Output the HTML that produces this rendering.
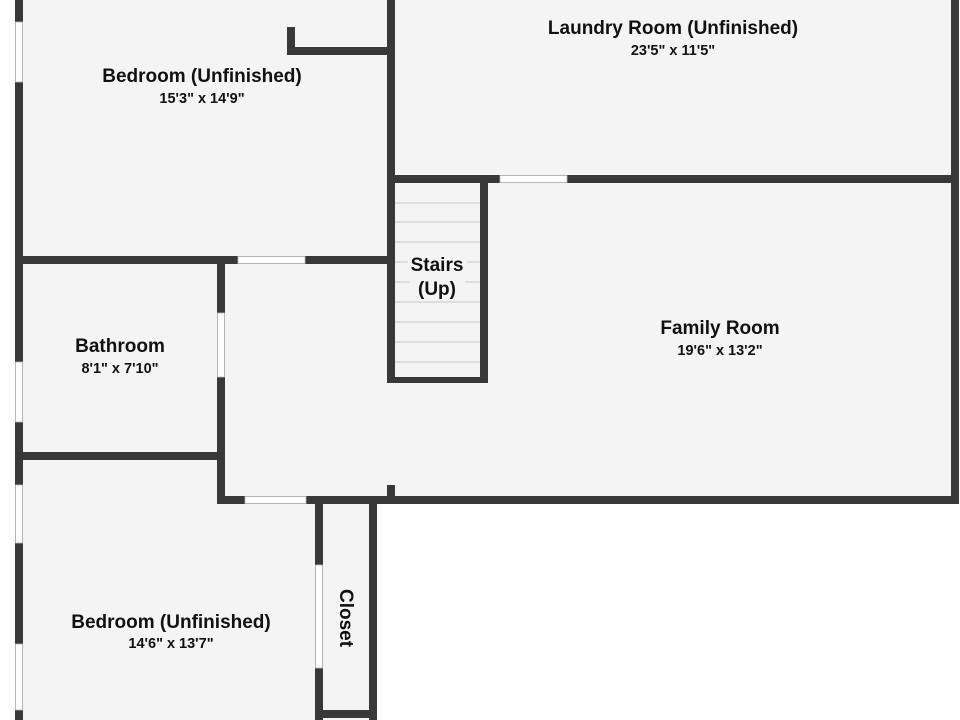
<!DOCTYPE html>
<html><head><meta charset="utf-8"><style>
html,body{margin:0;padding:0;background:#fff;width:960px;height:720px;overflow:hidden}
svg text{font-family:"Liberation Sans","DejaVu Sans",sans-serif;fill:#111;text-anchor:middle}
.t{font-size:19px;font-weight:bold}
.d{font-size:14.5px;font-weight:bold}
</style></head><body>
<svg width="960" height="720" viewBox="0 0 960 720" xmlns="http://www.w3.org/2000/svg">
<rect x="0" y="0" width="960" height="720" fill="#fff"/>
<g fill="#f4f4f4">
<rect x="19" y="0" width="940" height="504"/>
<rect x="19" y="500" width="358" height="220"/>
</g>
<g stroke="#c8c8c8" stroke-width="1">
<line x1="395" y1="203" x2="480" y2="203"/><line x1="395" y1="222" x2="480" y2="222"/>
<line x1="395" y1="242" x2="480" y2="242"/><line x1="395" y1="262" x2="408" y2="262"/><line x1="467" y1="262" x2="480" y2="262"/>
<line x1="395" y1="282" x2="410" y2="282"/><line x1="465" y1="282" x2="480" y2="282"/>
<line x1="395" y1="302" x2="480" y2="302"/><line x1="395" y1="322" x2="480" y2="322"/>
<line x1="395" y1="342" x2="480" y2="342"/><line x1="395" y1="362" x2="480" y2="362"/>
</g>
<g fill="#383838">
<rect x="15" y="0" width="8" height="720"/>
<rect x="387" y="0" width="8" height="383"/>
<rect x="287" y="27" width="8" height="28"/>
<rect x="287" y="47" width="104" height="8"/>
<rect x="19" y="256" width="372" height="8"/>
<rect x="951" y="0" width="8" height="504"/>
<rect x="391" y="175" width="564" height="8"/>
<rect x="480" y="175" width="8" height="207"/>
<rect x="387" y="377" width="101" height="6"/>
<rect x="217" y="260" width="8" height="244"/>
<rect x="19" y="452" width="204" height="8"/>
<rect x="217" y="496" width="742" height="8"/>
<rect x="387" y="485" width="8" height="15"/>
<rect x="315" y="500" width="8" height="220"/>
<rect x="369" y="500" width="8" height="220"/>
<rect x="315" y="710" width="62" height="8"/>
</g>
<g fill="#fff" stroke="#bbb" stroke-width="0.8">
<rect x="15.5" y="22" width="7" height="60"/>
<rect x="15.5" y="362" width="7" height="60"/>
<rect x="15.5" y="485" width="7" height="58"/>
<rect x="15.5" y="644" width="7" height="66"/>
<rect x="238" y="256.5" width="67" height="7"/>
<rect x="500" y="175.5" width="67" height="7"/>
<rect x="217.5" y="313" width="7" height="64"/>
<rect x="245" y="496.5" width="61" height="7"/>
<rect x="315.5" y="565" width="7" height="103"/>
</g>
<text class="t" x="673" y="34">Laundry Room (Unfinished)</text>
<text class="d" x="673" y="55">23'5" x 11'5"</text>
<text class="t" x="202" y="82">Bedroom (Unfinished)</text>
<text class="d" x="202" y="103">15'3" x 14'9"</text>
<text class="t" x="437" y="271">Stairs</text>
<text class="t" x="437" y="295">(Up)</text>
<text class="t" x="720" y="334">Family Room</text>
<text class="d" x="720" y="355">19'6" x 13'2"</text>
<text class="t" x="120" y="352">Bathroom</text>
<text class="d" x="120" y="373">8'1" x 7'10"</text>
<text class="t" x="171" y="628">Bedroom (Unfinished)</text>
<text class="d" x="171" y="648">14'6" x 13'7"</text>
<text class="t" x="0" y="0" transform="translate(340,618) rotate(90)">Closet</text>
</svg>
</body></html>
